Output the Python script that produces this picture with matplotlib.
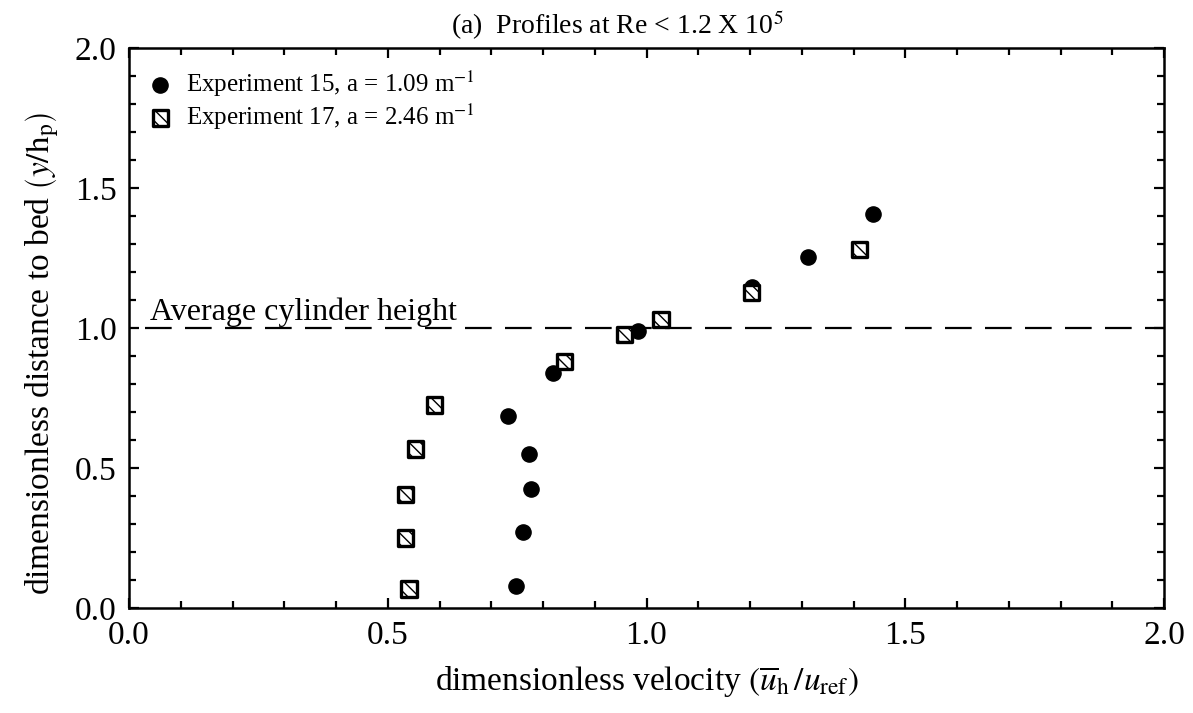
import numpy as np
import matplotlib.pyplot as plt
from matplotlib.ticker import MultipleLocator

plt.rcParams['font.family'] = ['Liberation Serif', 'DejaVu Serif']
plt.rcParams['mathtext.fontset'] = 'stix'

# experiment 15 (a = 1.09 1/m)
u15 = [0.747, 0.762, 0.777, 0.773, 0.733, 0.820, 0.983, 1.203, 1.313, 1.437]
y15 = [0.080, 0.273, 0.424, 0.550, 0.686, 0.840, 0.990, 1.148, 1.255, 1.406]

# experiment 17 (a = 2.46 1/m)
u17 = [0.541, 0.535, 0.535, 0.553, 0.591, 0.841, 0.957, 1.028, 1.203, 1.411]
y17 = [0.068, 0.250, 0.404, 0.568, 0.725, 0.879, 0.977, 1.031, 1.126, 1.281]

cylinder_height = 1.0

fig = plt.figure(figsize=(11.93, 7.13), dpi=100)
ax = fig.add_axes([129 / 1193, 1 - 608 / 713, 1035 / 1193, 560 / 713])

ax.axhline(cylinder_height, xmin=0.015, xmax=1.0, color='black', lw=1.6,
           dashes=(12, 6), zorder=1)
ax.text(0.04, cylinder_height + 0.03, 'Average cylinder height', fontsize=23)

ax.scatter(u15, y15, s=120, marker='o', color='black', zorder=3,
           label='Experiment 15, a = 1.09 m$^{-1}$')
ax.scatter(u17, y17, s=120, marker='s', facecolor='white', edgecolor='black',
           linewidths=2.4, hatch='\\\\\\', zorder=4,
           label='Experiment 17, a = 2.46 m$^{-1}$')

ax.set_xlim(0, 2.0)
ax.set_ylim(0, 2.0)
ax.xaxis.set_major_locator(MultipleLocator(0.5))
ax.yaxis.set_major_locator(MultipleLocator(0.5))
ax.xaxis.set_minor_locator(MultipleLocator(0.1))
ax.yaxis.set_minor_locator(MultipleLocator(0.1))
ax.xaxis.set_major_formatter('{x:.1f}')
ax.yaxis.set_major_formatter('{x:.1f}')
ax.tick_params(which='both', direction='in', top=True, right=True, width=1.6)
ax.tick_params(which='major', length=7, labelsize=24, pad=9)
ax.tick_params(which='minor', length=5)
for sp in ax.spines.values():
    sp.set_linewidth(1.8)

ax.set_xlabel(r'dimensionless velocity $\left(\overline{u}_{\mathrm{h}}\,/u_{\mathrm{ref}}\right)$',
              fontsize=24, labelpad=10)
ax.set_ylabel(r'dimensionless distance to bed $\left(y/\mathrm{h}_{\mathrm{p}}\right)$',
              fontsize=24)
ax.yaxis.set_label_coords(-0.066, 0.455)
ax.set_title('(a)  Profiles at Re < 1.2 X 10$^5$', fontsize=20, pad=10, x=0.472)

ax.legend(loc='upper left', frameon=False, fontsize=18, handletextpad=0.5,
          borderaxespad=0.3, labelspacing=0.1, handlelength=1.1,
          bbox_to_anchor=(0.0, 0.995))

fig.savefig('out.png', dpi=100)
